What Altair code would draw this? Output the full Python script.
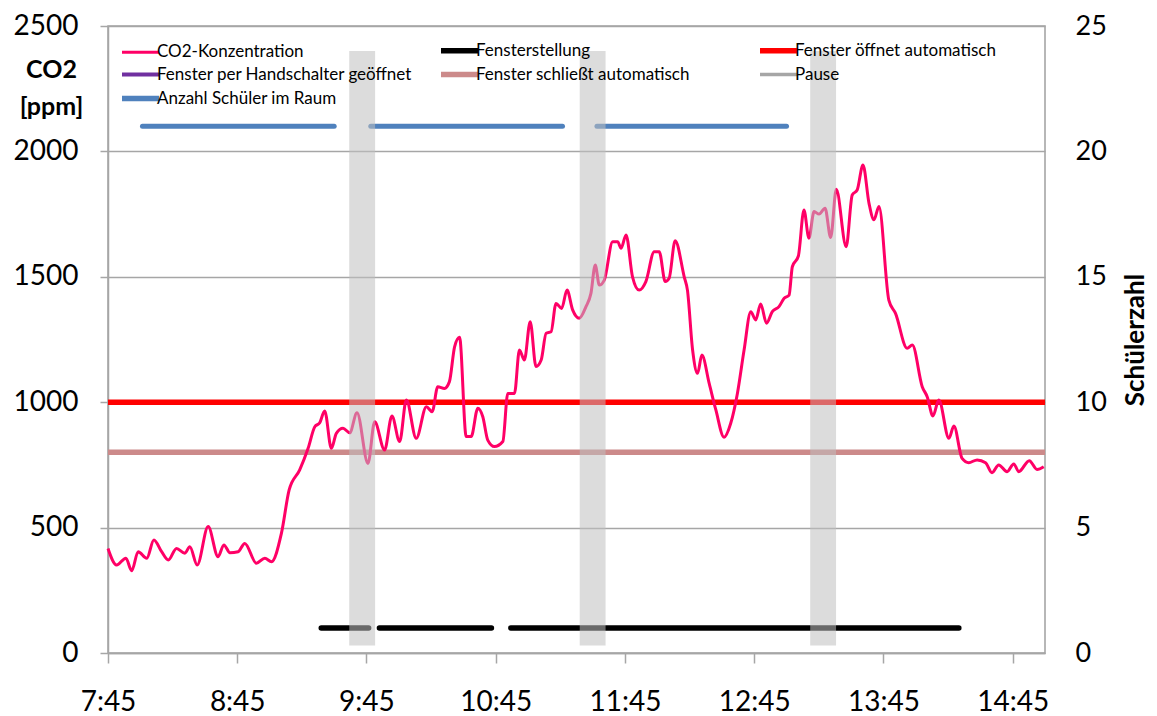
import altair as alt
import pandas as pd

# ---------------- data (time = minutes after 7:45) ----------------
co2_min = [0, 4.0, 8.3, 11.0, 14.0, 18.0, 21.3, 24.9, 28.0, 31.8, 35.7, 38.0, 41.4, 46.5,
           51.1, 53.8, 56.6, 60.4, 63.5, 68.9, 72.8, 75.9, 80.5, 84.1, 89.0, 92.9, 96.0,
           98.3, 100.6, 103.7, 106.0, 109.1, 112.2, 115.6, 120.7, 123.8, 128.4, 131.8,
           135.4, 138.5, 143.1, 147.8, 150.5, 153.1, 156.2, 158.5, 160.9, 163.2, 166.3,
           168.6, 171.7, 174.0, 176.3, 179.4, 183.3, 185.6, 188.7, 191.0, 193.3, 196.0,
           198.7, 201.1, 203.4, 205.7, 208.0, 210.6, 213.1, 215.7, 218.8, 221.9, 224.2,
           226.2, 228.1, 230.4, 234.3, 236.6, 238.2, 240.5, 243.5, 246.6, 249.7, 253.6,
           255.9, 258.7, 260.5, 263.3, 267.5, 269.0, 271.4, 273.7, 275.7, 279.1, 282.2,
           286.0, 289.1, 292.2, 295.3, 298.4, 300.7, 303.0, 305.7, 308.4, 311.5, 313.9,
           316.2, 317.7, 320.5, 323.1, 325.4, 327.8, 330.1, 332.9, 335.5, 338.1, 342.7,
           345.5, 347.8, 350.5, 353.3, 355.6, 357.9, 362.5, 365.6, 371.0, 373.4, 378.0,
           380.3, 383.0, 385.7, 390.4, 392.7, 396.5, 399.6, 403.5, 407.4, 410.4, 413.5,
           417.4, 420.5, 422.8, 427.7, 431.3, 434.4]
co2_ppm = [417, 351, 378, 328, 404, 378, 451, 404, 371, 417, 398, 424, 351, 504,
           384, 431, 400, 404, 437, 358, 378, 364, 477, 650, 730, 816, 902,
           918, 965, 816, 876, 896, 878, 958, 756, 922, 809, 945,
           843, 1009, 856, 982, 962, 1062, 1055, 1082, 1221, 1259, 863,
           863, 976, 942, 849, 823, 843, 1035, 1035, 1208, 1168, 1321,
           1142, 1168, 1275, 1281, 1394, 1374, 1447, 1368, 1335, 1381, 1434,
           1547, 1467, 1487, 1640, 1640, 1614, 1667, 1500, 1447, 1481, 1600,
           1600, 1481, 1494, 1644, 1500, 1447, 1208, 1115, 1188, 1075, 969,
           860, 916, 1035, 1208, 1361, 1328, 1392, 1315, 1361, 1381, 1414,
           1427, 1540, 1583, 1766, 1654, 1760, 1750, 1773, 1657, 1849, 1620,
           1826, 1846, 1946, 1793, 1727, 1780, 1407, 1354, 1215, 1228, 1062,
           1022, 945, 1009, 856, 905, 776, 759, 770, 759, 719, 750,
           723, 754, 723, 767, 732, 743]

series_names = ["CO2-Konzentration", "Fensterstellung", "Fenster öffnet automatisch",
                "Fenster per Handschalter geöffnet", "Fenster schließt automatisch",
                "Pause", "Anzahl Schüler im Raum"]
series_colors = ["#ff0066", "#000000", "#ff0000", "#7030a0", "#cc8a8a", "#a6a6a6", "#4f81bd"]

threshold_names = ["Fenster öffnet automatisch", "Fenster schließt automatisch"]
threshold_ppm = [1000, 800]

window_start = [99, 126, 187]
window_end = [121, 178, 395]
window_value = [1, 1, 1]

pupils_start = [16, 122, 227]
pupils_end = [105, 211, 315]
pupils_value = [21, 21, 21]

pause_start = [112, 219, 326]
pause_end = [124, 231, 338]
pause_top = [24.0, 24.0, 24.0]
pause_bottom = [0.3, 0.3, 0.3]

x_ticks = [0, 60, 120, 180, 240, 300, 360, 420]
left_ticks = [0, 500, 1000, 1500, 2000, 2500]
right_ticks = [0, 5, 10, 15, 20, 25]

# ---------------- tables ----------------
co2_df = pd.DataFrame({"t": co2_min, "ppm": co2_ppm, "series": series_names[0]})
thr_df = pd.DataFrame({"ppm": threshold_ppm, "series": threshold_names})
win_df = pd.DataFrame({"start": window_start, "end": window_end, "n": window_value,
                       "series": "Fensterstellung"})
pup_df = pd.DataFrame({"start": pupils_start, "end": pupils_end, "n": pupils_value,
                       "series": "Anzahl Schüler im Raum"})
pause_df = pd.DataFrame({"start": pause_start, "end": pause_end,
                         "top": pause_top, "bottom": pause_bottom})

FONT = "Lato"

x_scale = alt.Scale(domain=[0, 435], nice=False, zero=False)
x_axis = alt.Axis(values=x_ticks, title=None, grid=False,
                  labelExpr="floor((datum.value + 465) / 60) + ':' + "
                            "(((datum.value + 465) % 60) < 10 ? '0' : '') + ((datum.value + 465) % 60)",
                  labelFont=FONT, labelFontSize=28, labelColor="#000000",
                  labelPadding=25, tickSize=10, tickColor="#a6a6a6", tickWidth=1.5,
                  domainColor="#a6a6a6", domainWidth=1.5, labelFlush=False)

left_scale = alt.Scale(domain=[0, 2500], nice=False)
left_axis = alt.Axis(values=left_ticks, format="d", title=["CO2", "[ppm]"], grid=True,
                     gridColor="#a6a6a6", gridWidth=1.5,
                     labelFont=FONT, labelFontSize=28, labelColor="#000000",
                     labelPadding=22, tickSize=8, tickColor="#a6a6a6", tickWidth=1.5,
                     domainColor="#a6a6a6", domainWidth=1.5,
                     titleFont=FONT, titleFontSize=25, titleFontWeight="bold",
                     titleColor="#000000", titleAngle=0, titleAlign="center",
                     titleBaseline="alphabetic", titleX=-57, titleY=51, titleLineHeight=37,
                     labelFlush=False)

right_scale = alt.Scale(domain=[0, 25], nice=False)
right_axis = alt.Axis(values=right_ticks, title="Schülerzahl", orient="right", grid=False,
                      labelFont=FONT, labelFontSize=27, labelColor="#000000",
                      labelPadding=30, ticks=False, domain=False,
                      titleFont=FONT, titleFontSize=26, titleFontWeight="bold",
                      titleColor="#000000", titleAngle=270, titleBaseline="middle",
                      titleX=90, labelFlush=False)

legend = alt.Legend(title=None, orient="none", legendX=24, legendY=16, columns=3,
                    direction="horizontal", gridAlign="all", columnPadding=17, rowPadding=1,
                    symbolType="stroke", symbolSize=1369,
                    symbolStrokeWidth=alt.ExprRef(
                        expr="datum.value == 'CO2-Konzentration' ? 3 : "
                             "(datum.value == 'Pause' ? 3.5 : "
                             "(datum.value == 'Fenster per Handschalter geöffnet' ? 4 : 5.5))"),
                    labelFont=FONT, labelFontSize=17, labelColor="#000000",
                    labelOffset=8, labelLimit=400, padding=0)

color = alt.Color("series:N", scale=alt.Scale(domain=series_names, range=series_colors),
                  legend=legend)

thr = alt.Chart(thr_df).mark_rule(strokeWidth=5.5).encode(
    y=alt.Y("ppm:Q", scale=left_scale, axis=left_axis),
    color=color,
)

co2 = alt.Chart(co2_df).mark_line(strokeWidth=3, interpolate="monotone").encode(
    x=alt.X("t:Q", scale=x_scale, axis=x_axis),
    y=alt.Y("ppm:Q", scale=left_scale, axis=left_axis),
    color=color,
)

win = alt.Chart(win_df).mark_rule(strokeWidth=5.5, strokeCap="round").encode(
    x=alt.X("start:Q", scale=x_scale, axis=x_axis),
    x2="end:Q",
    y=alt.Y("n:Q", scale=right_scale, axis=right_axis),
    color=color,
)

pup = alt.Chart(pup_df).mark_rule(strokeWidth=5, strokeCap="round").encode(
    x=alt.X("start:Q", scale=x_scale, axis=x_axis),
    x2="end:Q",
    y=alt.Y("n:Q", scale=right_scale, axis=right_axis),
    color=color,
)

pause = alt.Chart(pause_df).mark_rect(fill="#c0c0c0", opacity=0.55).encode(
    x=alt.X("start:Q", scale=x_scale, axis=x_axis),
    x2="end:Q",
    y=alt.Y("top:Q", scale=right_scale, axis=right_axis),
    y2="bottom:Q",
)

left = alt.layer(thr, co2)
right = alt.layer(win, pup, pause)

chart = alt.layer(left, right).resolve_scale(y="independent").properties(
    width=937, height=627,
    autosize=alt.AutoSizeParams(type="none"),
    padding={"left": 100, "top": 18, "right": 104, "bottom": 62},
    background="#ffffff",
).configure_view(stroke="#a0a0a0", strokeWidth=1.5)

chart.save("out.html", embed_options={"renderer": "svg", "actions": False})
